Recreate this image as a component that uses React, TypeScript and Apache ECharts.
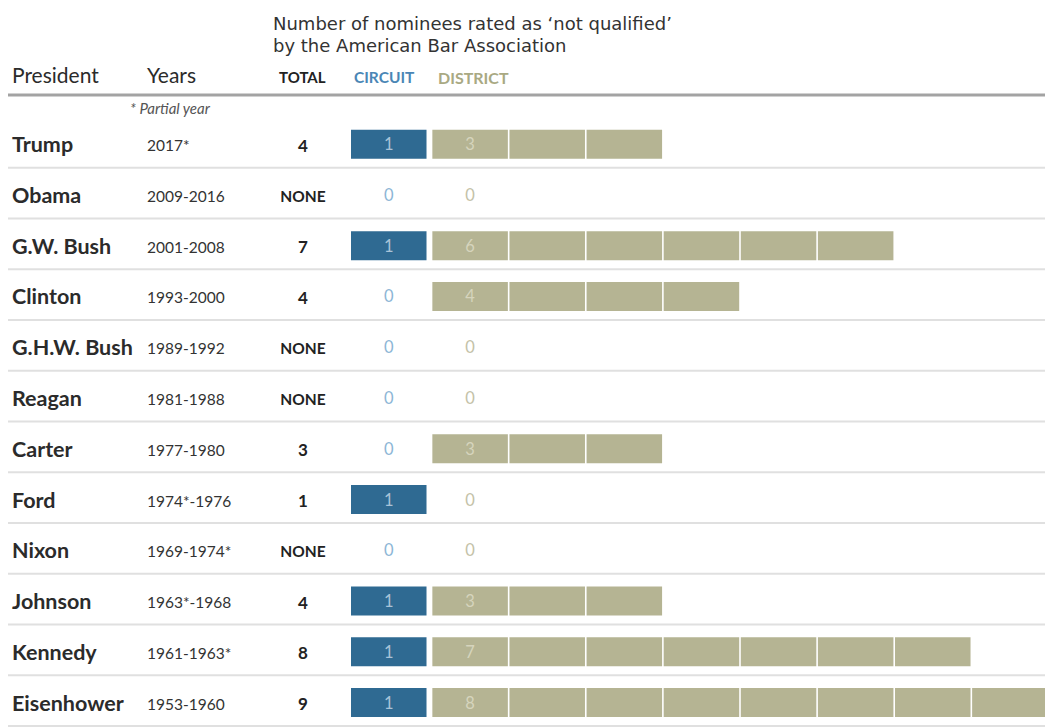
import React, { useEffect, useRef } from "react";
import * as echarts from "echarts";

// ---- data ----
const presidents = [
  "Trump", "Obama", "G.W. Bush", "Clinton", "G.H.W. Bush", "Reagan",
  "Carter", "Ford", "Nixon", "Johnson", "Kennedy", "Eisenhower",
];
const years = [
  "2017*", "2009-2016", "2001-2008", "1993-2000", "1989-1992", "1981-1988",
  "1977-1980", "1974*-1976", "1969-1974*", "1963*-1968", "1961-1963*", "1953-1960",
];
const totals = ["4", "NONE", "7", "4", "NONE", "NONE", "3", "1", "NONE", "4", "8", "9"];
const circuit = [1, 0, 1, 0, 0, 0, 0, 1, 0, 1, 1, 1];
const district = [3, 0, 6, 4, 0, 0, 3, 0, 0, 3, 7, 8];

// ---- layout / style ----
const FONT = "Lato, 'Open Sans', sans-serif";
const DISTRICT_OFFSET = 1.055; // district bars start after circuit column (axis units)
const CIRCUIT_COLOR = "#2f6a92";
const DISTRICT_COLOR = "#b5b493";

export default function App() {
  const ref = useRef<HTMLDivElement>(null);

  useEffect(() => {
    document.body.style.margin = "0";
    if (!ref.current) return;
    const chart = echarts.init(ref.current, null, { renderer: "svg" });

    const renderItem = (params: any, api: any) => {
      const i = params.dataIndex;
      const row = api.value(1);
      const cy = api.coord([0, row])[1];
      const unitW = api.size([1, 0])[0];
      const barH = 29;
      const gap = 1.6;
      const children: any[] = [];

      // row separator
      children.push({
        type: "line",
        shape: { x1: 8, y1: cy + 23.5, x2: 1045, y2: cy + 23.5 },
        style: { stroke: "#e0e0e0", lineWidth: 2 },
      });
      // president name
      children.push({
        type: "text",
        style: {
          text: presidents[i], x: 12, y: cy, verticalAlign: "middle", align: "left",
          fontFamily: FONT, fontWeight: "bold", fontSize: 21.5, fill: "#2b2b2b",
        },
      });
      // years
      children.push({
        type: "text",
        style: {
          text: years[i], x: 147, y: cy + 1, verticalAlign: "middle", align: "left",
          fontFamily: FONT, fontSize: 15.5, fill: "#333",
        },
      });
      // total
      children.push({
        type: "text",
        style: {
          text: totals[i], x: 303, y: cy + 1, verticalAlign: "middle", align: "center",
          fontFamily: FONT, fontWeight: "bold", fontSize: totals[i] === "NONE" ? 15.5 : 17, fill: "#222",
        },
      });

      // circuit bars
      for (let k = 0; k < circuit[i]; k++) {
        const x = api.coord([k, row])[0];
        children.push({
          type: "rect",
          shape: { x, y: cy - barH / 2, width: unitW - gap, height: barH },
          style: { fill: CIRCUIT_COLOR },
        });
      }
      const cLabelX = api.coord([0.5, row])[0] - gap / 2;
      children.push({
        type: "text",
        style: {
          text: String(circuit[i]), x: cLabelX, y: cy, align: "center", verticalAlign: "middle",
          fontFamily: FONT, fontSize: 16.5, fill: circuit[i] > 0 ? "#a9c3d8" : "#8db6d6",
        },
      });

      // district bars
      for (let k = 0; k < district[i]; k++) {
        const x = api.coord([DISTRICT_OFFSET + k, row])[0];
        children.push({
          type: "rect",
          shape: { x, y: cy - barH / 2, width: unitW - gap, height: barH },
          style: { fill: DISTRICT_COLOR },
        });
      }
      const dLabelX = api.coord([DISTRICT_OFFSET + 0.5, row])[0] - gap / 2;
      children.push({
        type: "text",
        style: {
          text: String(district[i]), x: dLabelX, y: cy, align: "center", verticalAlign: "middle",
          fontFamily: FONT, fontSize: 16.5, fill: district[i] > 0 ? "#d6d4bd" : "#c4c2a8",
        },
      });

      return { type: "group", children };
    };

    chart.setOption({
      animation: false,
      backgroundColor: "#ffffff",
      grid: { left: 351, top: 118.75, width: 699.3, height: 618 },
      xAxis: { type: "value", min: 0, max: 9, show: false },
      yAxis: { type: "category", data: presidents, inverse: true, show: false },
      graphic: [
        {
          type: "text", left: 273, top: 13,
          style: {
            text: "Number of nominees rated as ‘not qualified’\nby the American Bar Association",
            fontFamily: "'DejaVu Sans', sans-serif", fontSize: 18, lineHeight: 21.5, fill: "#333",
          },
        },
        {
          type: "text", left: 12, top: 64,
          style: { text: "President", fontFamily: FONT, fontSize: 21, fill: "#2b2b2b" },
        },
        {
          type: "text", left: 147, top: 64,
          style: { text: "Years", fontFamily: FONT, fontSize: 21, fill: "#2b2b2b" },
        },
        {
          type: "text", left: 279, top: 69,
          style: { text: "TOTAL", fontFamily: FONT, fontSize: 15, fontWeight: "bold", fill: "#222" },
        },
        {
          type: "text", left: 354, top: 69,
          style: { text: "CIRCUIT", fontFamily: FONT, fontSize: 15.5, fontWeight: "bold", fill: "#4a86b5" },
        },
        {
          type: "text", left: 438, top: 69,
          style: { text: "DISTRICT", fontFamily: FONT, fontSize: 16, fontWeight: "bold", fill: "#a9a983" },
        },
        {
          type: "line",
          shape: { x1: 8, y1: 95, x2: 1045, y2: 95 },
          style: { stroke: "#a3a3a3", lineWidth: 3 },
        },
        {
          type: "text", left: 130, top: 100,
          style: { text: "* Partial year", fontFamily: FONT, fontSize: 15, fontStyle: "italic", fill: "#555" },
        },
      ],
      series: [
        {
          type: "custom",
          renderItem,
          clip: false,
          encode: { x: 0, y: 1 },
          data: presidents.map((_, i) => [0, i]),
        },
      ],
    });

    return () => chart.dispose();
  }, []);

  return <div ref={ref} style={{ width: 1045, height: 728 }} />;
}
